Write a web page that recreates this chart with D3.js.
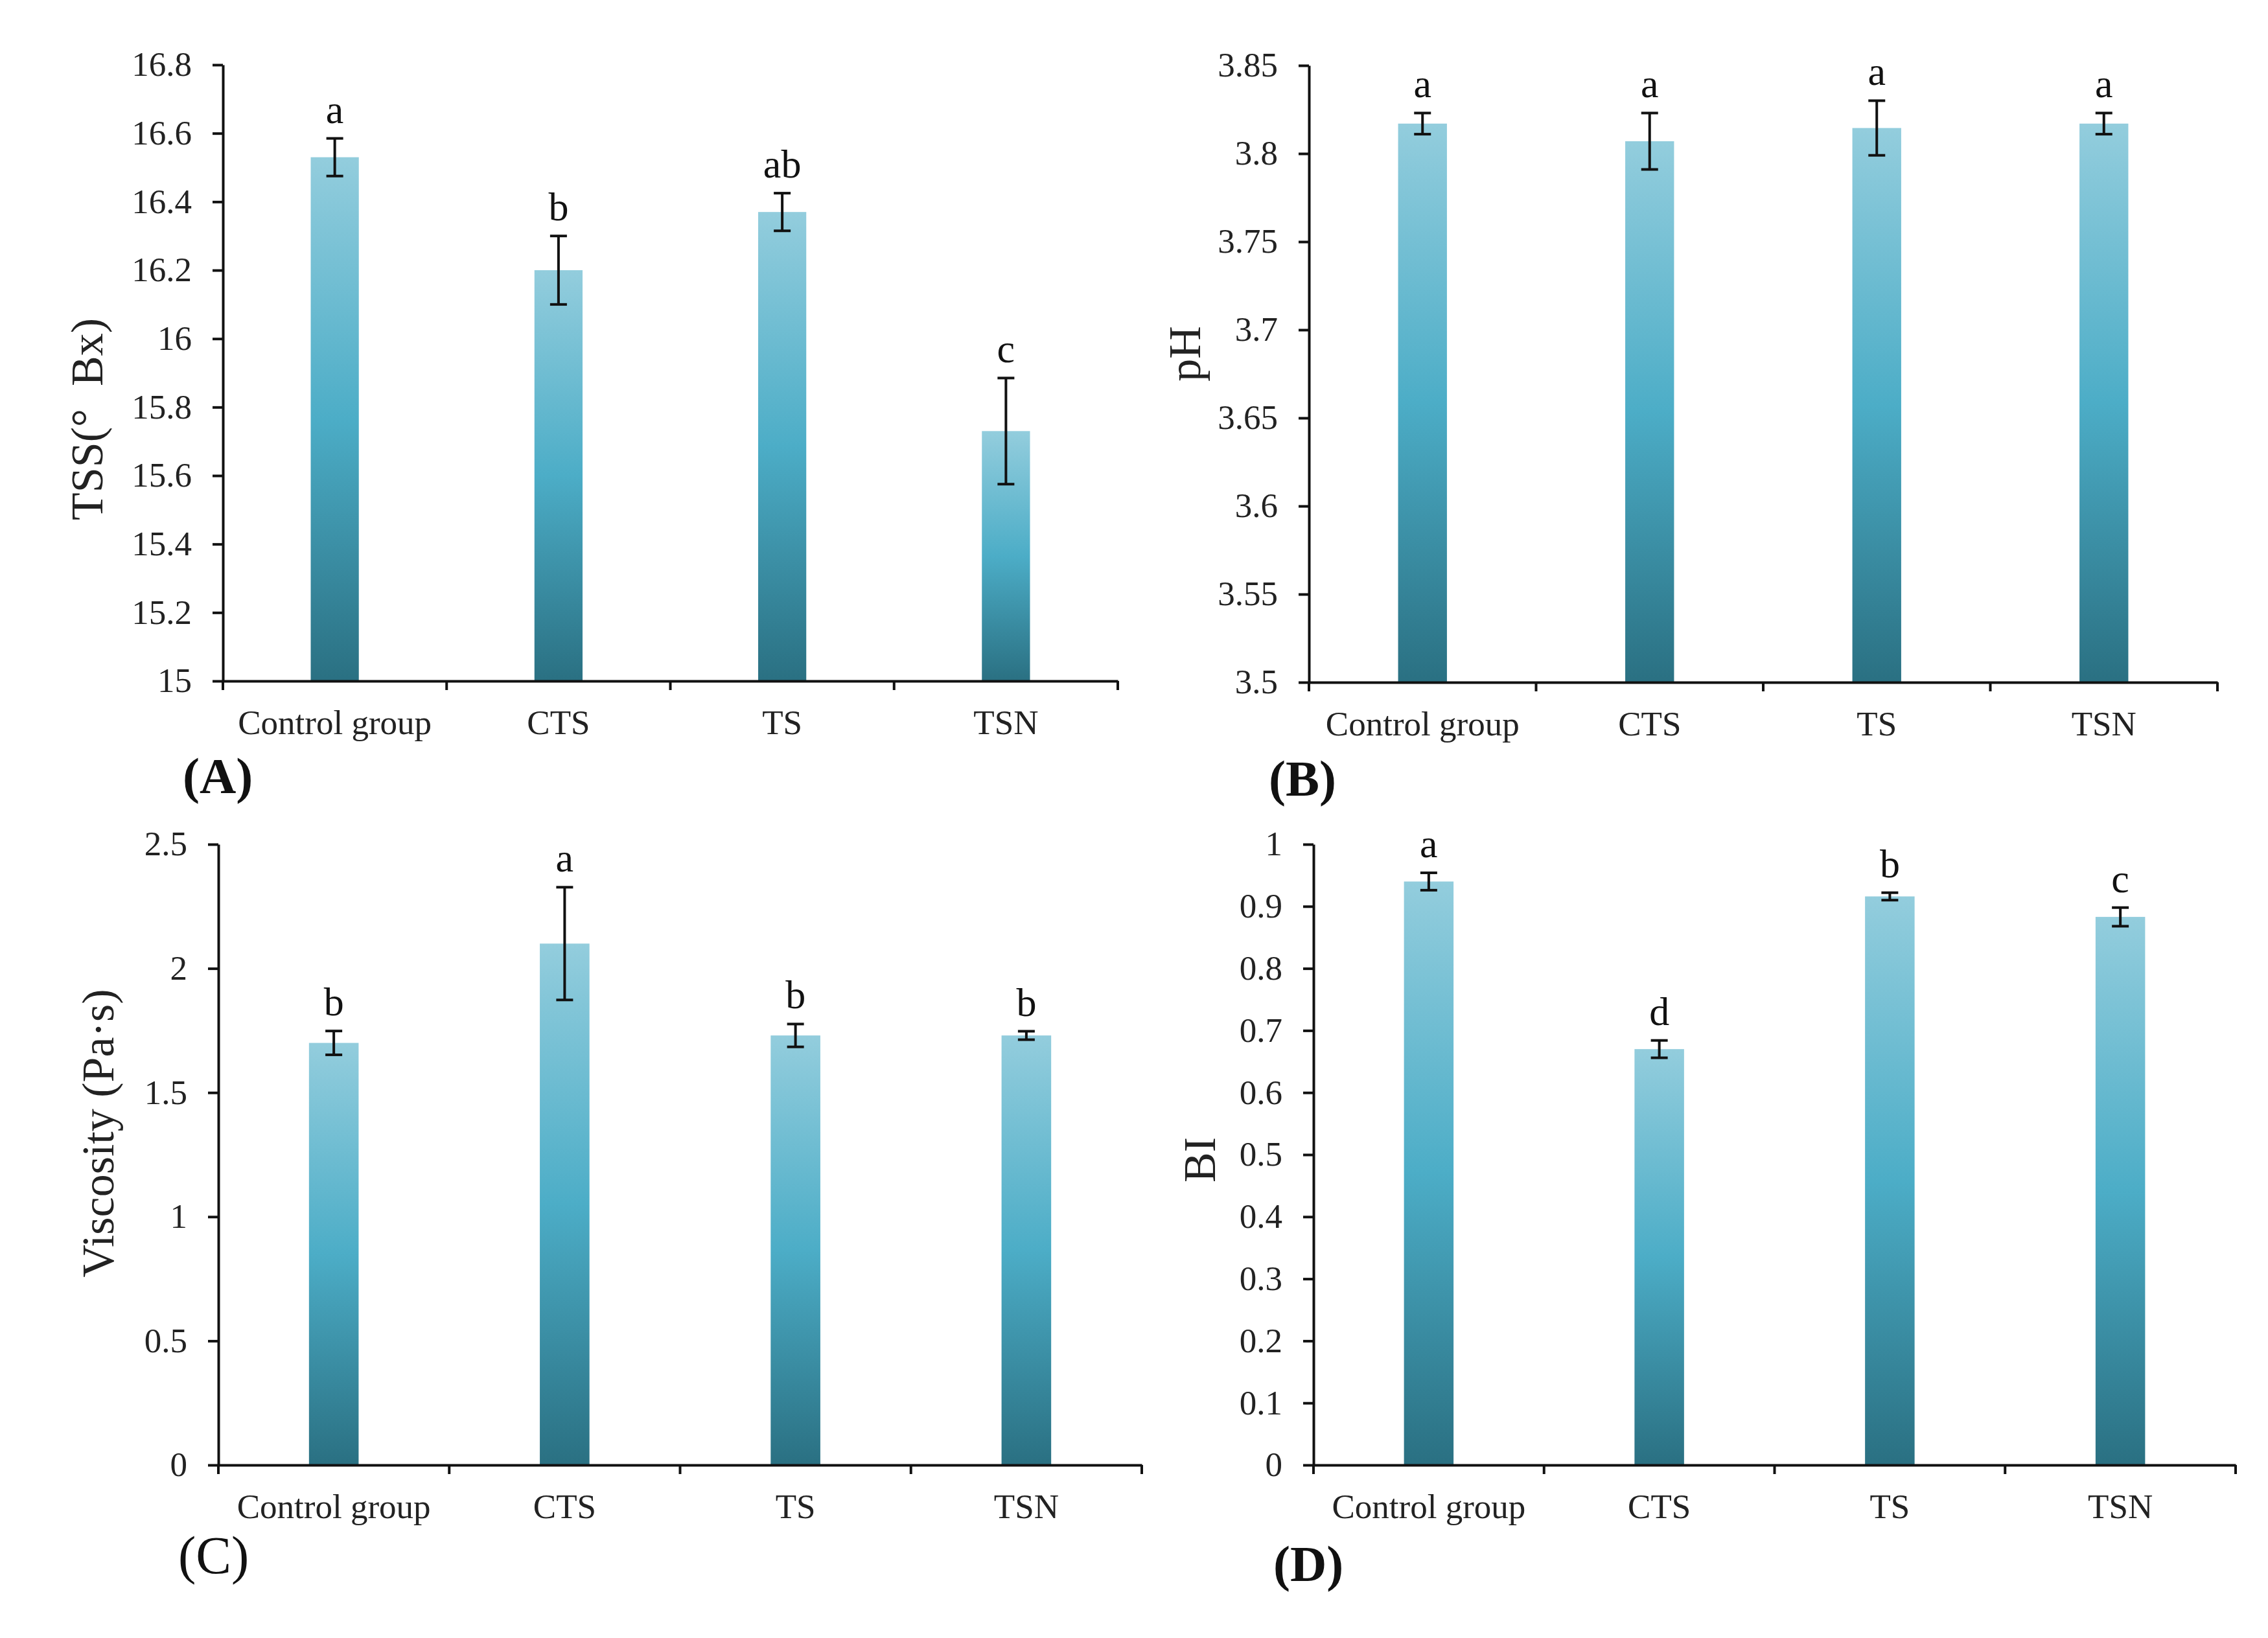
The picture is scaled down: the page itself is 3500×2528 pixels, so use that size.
<!DOCTYPE html>
<html lang="en">

<head>
	<meta charset="UTF-8">
	<script src="https://cdn.jsdelivr.net/npm/d3@7"></script>
	<title>TSS, pH, viscosity and BI</title>
</head>
<style>
	body {
		margin: 0;
		background: #fff;
	}

	svg text {
		font-family: "Liberation Serif", "Times New Roman", serif;
	}

	.axis path,
	.axis line {
		stroke: #111;
		stroke-width: 4;
	}

	.axis text {
		fill: #222;
		font-size: 53px;
	}

	.errbar {
		stroke: #111;
		stroke-width: 4;
	}

	.letter {
		font-size: 62px;
		fill: #111;
	}

	.ytitle {
		font-size: 70px;
		fill: #222;
		white-space: pre;
	}
</style>

<body>
	<svg id="fig" width="3500" height="2528"></svg>

	<script>
		// categories shared by all four panels
		const categories = ['Control group', 'CTS', 'TS', 'TSN'];

		// (A) total soluble solids
		const tssMean = [16.53, 16.20, 16.37, 15.73];
		const tssErr = [0.055, 0.10, 0.055, 0.155];
		const tssLetters = ['a', 'b', 'ab', 'c'];
		const tssTicks = [15, 15.2, 15.4, 15.6, 15.8, 16, 16.2, 16.4, 16.6, 16.8];

		// (B) pH
		const phMean = [3.817, 3.807, 3.8145, 3.817];
		const phErr = [0.006, 0.016, 0.0155, 0.006];
		const phLetters = ['a', 'a', 'a', 'a'];
		const phTicks = [3.5, 3.55, 3.6, 3.65, 3.7, 3.75, 3.8, 3.85];

		// (C) viscosity
		const viscMean = [1.70, 2.10, 1.73, 1.73];
		const viscErr = [0.048, 0.227, 0.046, 0.017];
		const viscLetters = ['b', 'a', 'b', 'b'];
		const viscTicks = [0, 0.5, 1, 1.5, 2, 2.5];

		// (D) browning index
		const biMean = [0.940, 0.670, 0.916, 0.883];
		const biErr = [0.014, 0.014, 0.006, 0.015];
		const biLetters = ['a', 'd', 'b', 'c'];
		const biTicks = [0, 0.1, 0.2, 0.3, 0.4, 0.5, 0.6, 0.7, 0.8, 0.9, 1];

		const svg = d3.select('#fig');

		// bar gradient, light on top, dark at the bottom
		const grad = svg.append('defs').append('linearGradient')
			.attr('id', 'barGrad')
			.attr('x1', 0).attr('y1', 0).attr('x2', 0).attr('y2', 1);
		grad.append('stop').attr('offset', '0%').attr('stop-color', '#93cddd');
		grad.append('stop').attr('offset', '50%').attr('stop-color', '#4cadc7');
		grad.append('stop').attr('offset', '100%').attr('stop-color', '#2a7082');

		// panel layout (pixel boxes of each plot area)
		const panels = [
			{ mean: tssMean, err: tssErr, letters: tssLetters, ticks: tssTicks, title: 'TSS(°  Bx)', tag: '(A)', bold: true,
				x0: 344, x1: 1725, y0: 100, y1: 1051, titleX: 134, titleY: 647, tagY: 1224 },
			{ mean: phMean, err: phErr, letters: phLetters, ticks: phTicks, title: 'pH', tag: '(B)', bold: true,
				x0: 2020, x1: 3422, y0: 101, y1: 1053, titleX: 1828, titleY: 546, tagY: 1228 },
			{ mean: viscMean, err: viscErr, letters: viscLetters, ticks: viscTicks, title: 'Viscosity (Pa·s)', tag: '(C)', bold: false,
				x0: 337, x1: 1762, y0: 1303, y1: 2261, titleX: 151, titleY: 1749, tagY: 2428 },
			{ mean: biMean, err: biErr, letters: biLetters, ticks: biTicks, title: 'BI', tag: '(D)', bold: true,
				x0: 2027, x1: 3450, y0: 1303, y1: 2261, titleX: 1851, titleY: 1790, tagY: 2440 }
		];

		panels.forEach(p => {
			const g = svg.append('g');

			const x = d3.scaleBand()
				.domain(categories)
				.range([p.x0, p.x1])
				.padding(0);
			const y = d3.scaleLinear()
				.domain([p.ticks[0], p.ticks[p.ticks.length - 1]])
				.range([p.y1, p.y0]);

			const barW = x.bandwidth() * 0.215;
			const data = categories.map((c, i) => ({ cat: c, v: p.mean[i], e: p.err[i], l: p.letters[i] }));

			// bars
			g.selectAll('rect.bar')
				.data(data)
				.enter()
				.append('rect')
				.attr('class', 'bar')
				.attr('x', d => x(d.cat) + x.bandwidth() / 2 - barW / 2)
				.attr('y', d => y(d.v))
				.attr('width', barW)
				.attr('height', d => y(p.ticks[0]) - y(d.v))
				.attr('fill', 'url(#barGrad)');

			// y axis
			g.append('g')
				.attr('class', 'axis')
				.attr('transform', `translate(${p.x0},0)`)
				.call(d3.axisLeft(y).tickValues(p.ticks).tickFormat(d => String(d))
					.tickSizeInner(16).tickSizeOuter(0).tickPadding(32));

			// x axis: labels centred, tick marks on category boundaries
			const xAxis = g.append('g')
				.attr('class', 'axis')
				.attr('transform', `translate(0,${p.y1})`)
				.call(d3.axisBottom(x).tickSize(0).tickPadding(44));
			xAxis.selectAll('.tick line').remove();
			const bounds = categories.map(c => x(c)).concat([x.range()[1]]);
			xAxis.selectAll('line.sep')
				.data(bounds)
				.enter()
				.append('line')
				.attr('class', 'sep')
				.attr('x1', d => d).attr('x2', d => d)
				.attr('y1', 0).attr('y2', 14);

			// error bars
			const cap = 13;
			const eb = g.selectAll('g.err')
				.data(data)
				.enter()
				.append('g')
				.attr('class', 'err')
				.attr('transform', d => `translate(${x(d.cat) + x.bandwidth() / 2},0)`);
			eb.append('line').attr('class', 'errbar')
				.attr('y1', d => y(d.v + d.e)).attr('y2', d => y(d.v - d.e));
			eb.append('line').attr('class', 'errbar')
				.attr('x1', -cap).attr('x2', cap)
				.attr('y1', d => y(d.v + d.e)).attr('y2', d => y(d.v + d.e));
			eb.append('line').attr('class', 'errbar')
				.attr('x1', -cap).attr('x2', cap)
				.attr('y1', d => y(d.v - d.e)).attr('y2', d => y(d.v - d.e));

			// significance letters
			eb.append('text')
				.attr('class', 'letter')
				.attr('text-anchor', 'middle')
				.attr('y', d => y(d.v + d.e) - 24)
				.text(d => d.l);

			// y title
			g.append('text')
				.attr('class', 'ytitle')
				.attr('transform', `translate(${p.titleX},${p.titleY}) rotate(-90)`)
				.attr('text-anchor', 'middle')
				.attr('dominant-baseline', 'central')
				.text(p.title);

			// panel tag
			g.append('text')
				.attr('x', p.x0 - 62)
				.attr('y', p.tagY)
				.attr('font-size', p.bold ? 78 : 82)
				.attr('font-weight', p.bold ? 'bold' : 'normal')
				.attr('fill', '#111')
				.text(p.tag);
		});
	</script>
</body>

</html>
